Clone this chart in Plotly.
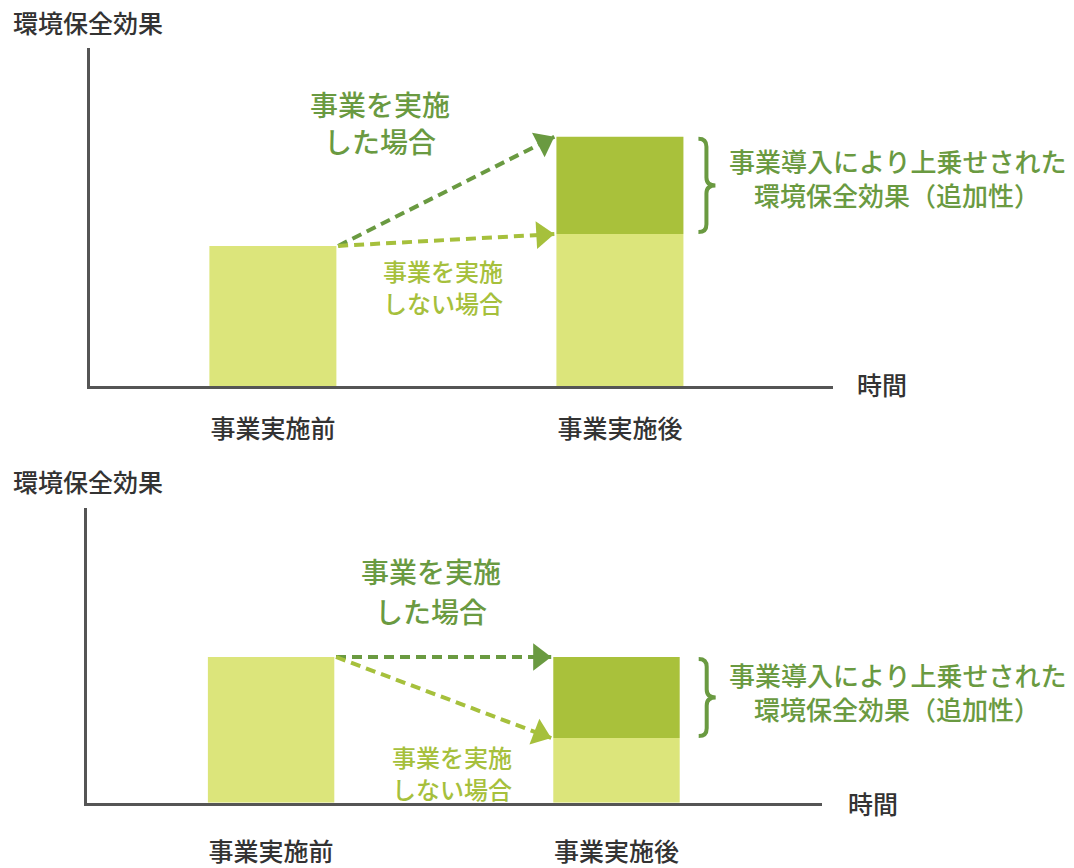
import plotly.graph_objects as go

W, H = 1074, 868

# ---- data ----
categories = ["事業実施前", "事業実施後"]
# top panel (事業により効果が上乗せ: effect grows)
top_before = 4.15
top_baseline_after = 4.5
top_addition = 2.88
# bottom panel (事業なしでは効果が減少)
bot_before = 4.95
bot_baseline_after = 2.2
bot_addition = 2.75

y_label = "環境保全効果"
x_label = "時間"
txt_with = ["事業を実施", "した場合"]
txt_without = ["事業を実施", "しない場合"]
txt_add = ["事業導入により上乗せされた", "環境保全効果（追加性）"]

# ---- style ----
LIGHT = "#dce57b"
DARK = "#a9c13b"
GREEN = "#6a9a41"
LGREEN = "#a6c03c"
AXIS = "#555555"
TXT = "#333333"
FONT = "Noto Sans CJK JP Medium, Noto Sans CJK JP"
BW = 0.366
HEAD = 24


def px(x):
    return x / W


def py(y):
    return 1 - y / H


fig = go.Figure()

panels = [
    dict(xa="x", ya="y", before=top_before, base=top_baseline_after, add=top_addition,
         xdom=[px(90), px(833)], ydom=[py(392), py(49)], xr=[-0.527, 1.614], tl=19),
    dict(xa="x2", ya="y2", before=bot_before, base=bot_baseline_after, add=bot_addition,
         xdom=[px(87), px(822)], ydom=[py(815), py(516)], xr=[-0.533, 1.595], tl=25),
]


def arrow(x, y, color, p):
    # dashed shaft
    fig.add_trace(go.Scatter(x=x, y=y, mode="lines",
                             line=dict(color=color, width=4, dash="10px,6px"),
                             xaxis=p["xa"], yaxis=p["ya"], hoverinfo="skip"))
    # filled head, oriented along the shaft
    fig.add_trace(go.Scatter(x=x, y=y, mode="markers",
                             marker=dict(symbol="triangle-up", size=[0, HEAD], color=color,
                                         opacity=1, angleref="previous", standoff=HEAD / 2,
                                         line=dict(width=0)),
                             xaxis=p["xa"], yaxis=p["ya"], hoverinfo="skip"))


for p in panels:
    xs = [0, 1]
    # light (baseline) bars
    fig.add_trace(go.Bar(x=xs, y=[p["before"], p["base"]], width=BW,
                         marker=dict(color=LIGHT, line=dict(width=0)),
                         xaxis=p["xa"], yaxis=p["ya"], hoverinfo="skip"))
    # dark (additional) part
    fig.add_trace(go.Bar(x=[1], y=[p["add"]], base=[p["base"]], width=BW,
                         marker=dict(color=DARK, line=dict(width=0)),
                         xaxis=p["xa"], yaxis=p["ya"], hoverinfo="skip"))
    x0 = 0 + BW / 2 + 0.005
    x1 = 1 - BW / 2 - 0.006
    arrow([x0, x1], [p["before"], p["base"] + p["add"]], GREEN, p)   # 事業を実施した場合
    arrow([x0, x1], [p["before"], p["base"]], LGREEN, p)             # 事業を実施しない場合

layout = dict(
    width=W, height=H, margin=dict(l=0, r=0, t=0, b=0),
    paper_bgcolor="white", plot_bgcolor="white", showlegend=False,
    barmode="overlay", font=dict(family=FONT, color=TXT),
)
for i, p in enumerate(panels):
    sx = "" if i == 0 else "2"
    layout["xaxis" + sx] = dict(domain=p["xdom"], range=p["xr"], anchor=p["ya"],
                                showline=True, linewidth=3, linecolor=AXIS,
                                showgrid=False, zeroline=False,
                                tickvals=[0, 1], ticktext=categories,
                                ticks="outside", ticklen=p["tl"], tickcolor="rgba(0,0,0,0)",
                                tickfont=dict(size=25, color=TXT, family=FONT),
                                fixedrange=True)
    layout["yaxis" + sx] = dict(domain=p["ydom"], range=[0, 10], anchor=p["xa"],
                                showline=True, linewidth=3, linecolor=AXIS,
                                showgrid=False, zeroline=False, showticklabels=False,
                                ticks="", fixedrange=True)
fig.update_layout(**layout)

# braces
for p, offs in zip(panels, [(15, 23, 32), (19, 27, 36)]):
    a, b, c = offs
    pxu = (p["ydom"][1] - p["ydom"][0]) * H / 10.0
    h = 8 / pxu
    ytop = p["base"] + p["add"] - 2 / pxu
    ybot = p["base"] + 2 / pxu
    ymid = (ytop + ybot) / 2
    path = (f"M {a},{ytop} Q {b},{ytop} {b},{ytop - h} L {b},{ymid + h} "
            f"Q {b},{ymid} {c},{ymid} Q {b},{ymid} {b},{ymid - h} "
            f"L {b},{ybot + h} Q {b},{ybot} {a},{ybot}")
    fig.add_shape(type="path", path=path, xref=p["xa"], yref=p["ya"],
                  xsizemode="pixel", xanchor=1 + BW / 2,
                  line=dict(color=GREEN, width=4), fillcolor="rgba(0,0,0,0)")


def ann(text, x, y, size, color, xanchor="center"):
    fig.add_annotation(text=text, x=px(x), y=py(y), xref="paper", yref="paper",
                       showarrow=False, xanchor=xanchor, yanchor="middle",
                       font=dict(size=size, color=color, family=FONT), align="center")


def ann2(lines, x, y1, gap, size, color):
    for k, t in enumerate(lines):
        ann(t, x, y1 + k * gap, size, color)


# top panel texts
ann(y_label, 11, 22, 25, TXT, "left")
ann(x_label, 882, 390, 25, TXT)
ann2(txt_with, 380, 106, 37, 28, GREEN)
ann2(txt_without, 443, 275, 32, 24, LGREEN)
ann2(txt_add, 897, 163, 34, 26, GREEN)
# bottom panel texts
ann(y_label, 11, 488, 25, TXT, "left")
ann(x_label, 873, 815, 25, TXT)
ann2(txt_with, 431, 580, 40, 28, GREEN)
ann2(txt_without, 452, 768, 32, 24, LGREEN)
ann2(txt_add, 897, 685, 34, 26, GREEN)

post = ("document.documentElement.style.margin='0';"
        "document.documentElement.style.overflow='hidden';"
        "document.body.style.margin='0';document.body.style.overflow='hidden';")
fig.write_html("out.html", config=dict(displayModeBar=False), post_script=post)
